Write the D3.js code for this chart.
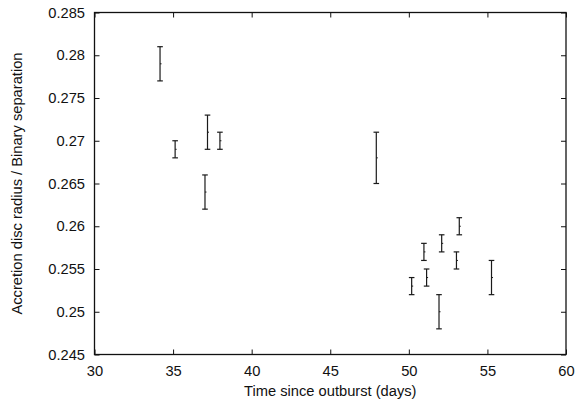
<!DOCTYPE html>
<html>
<head>
<meta charset="utf-8">
<script src="https://cdn.jsdelivr.net/npm/d3@7"></script>
<style>
	body { margin: 0; background: #fff; }
	svg { display: block; }
	text { font-family: "Liberation Sans", Arial, Helvetica, sans-serif; font-size: 14.7px; fill: #111; }
	.axis path { display: none; }
	.axis line { stroke: #111; stroke-width: 1; }
</style>
</head>
<body>
<div id="chart"></div>
<script>
// days since outburst for each measurement
var days = [34.17, 35.13, 37.03, 37.19, 37.98, 47.93, 50.18, 50.96, 51.13, 51.92, 52.09, 53.03, 53.21, 55.26];
// disc radius / binary separation
var ratio = [0.279, 0.269, 0.264, 0.271, 0.270, 0.268, 0.253, 0.257, 0.254, 0.250, 0.258, 0.256, 0.260, 0.254];
// half-length of each error bar
var ratioErr = [0.002, 0.001, 0.002, 0.002, 0.001, 0.003, 0.001, 0.001, 0.001, 0.002, 0.001, 0.001, 0.001, 0.002];

var xTicks = [30, 35, 40, 45, 50, 55, 60];
var yTicks = [0.245, 0.25, 0.255, 0.26, 0.265, 0.27, 0.275, 0.28, 0.285];
var yTickLabels = ['0.245', '0.25', '0.255', '0.26', '0.265', '0.27', '0.275', '0.28', '0.285'];

var W = 577, H = 405;
var padding = { top: 12.5, right: 11, bottom: 50.5, left: 94.5 };
var width = W - padding.left - padding.right;
var height = H - padding.top - padding.bottom;
var capHalf = 2.8;

var x = d3.scaleLinear().domain([30, 60]).range([0, width]);
var y = d3.scaleLinear().domain([0.245, 0.285]).range([height, 0]);

var svg = d3.select('#chart').append('svg')
	.attr('width', W)
	.attr('height', H)
	.append('g')
	.attr('transform', 'translate(' + padding.left + ',' + padding.top + ')');

// axes: ticks point inwards, mirrored on top and right
svg.append('g').attr('class', 'axis')
	.attr('transform', 'translate(0,' + height + ')')
	.call(d3.axisBottom(x).tickValues(xTicks).tickSizeInner(-5).tickSizeOuter(0).tickPadding(11).tickFormat(d3.format('d')));

svg.append('g').attr('class', 'axis')
	.call(d3.axisTop(x).tickValues(xTicks).tickSizeInner(-5).tickSizeOuter(0).tickFormat(''));

svg.append('g').attr('class', 'axis')
	.call(d3.axisLeft(y).tickValues(yTicks).tickSizeInner(-5).tickSizeOuter(0).tickPadding(9.5)
		.tickFormat(function (d, i) { return yTickLabels[i]; }));

svg.append('g').attr('class', 'axis')
	.attr('transform', 'translate(' + width + ',0)')
	.call(d3.axisRight(y).tickValues(yTicks).tickSizeInner(-5).tickSizeOuter(0).tickFormat(''));

svg.selectAll('.axis text').style('font-size', '14.7px').attr('fill', '#111');

// frame
svg.append('rect')
	.attr('width', width)
	.attr('height', height)
	.attr('fill', 'none')
	.attr('stroke', '#111')
	.attr('stroke-width', 1.3);

var points = days.map(function (d, i) {
	return { day: d, value: ratio[i], err: ratioErr[i] };
});

var bars = svg.selectAll('.bar')
	.data(points)
	.enter().append('g')
	.attr('class', 'bar')
	.attr('stroke', '#1a1a1a')
	.attr('stroke-width', 1.2);

bars.append('line')
	.attr('x1', function (d) { return x(d.day); })
	.attr('x2', function (d) { return x(d.day); })
	.attr('y1', function (d) { return y(d.value - d.err); })
	.attr('y2', function (d) { return y(d.value + d.err); });

bars.append('line')
	.attr('x1', function (d) { return x(d.day) - capHalf; })
	.attr('x2', function (d) { return x(d.day) + capHalf; })
	.attr('y1', function (d) { return y(d.value + d.err); })
	.attr('y2', function (d) { return y(d.value + d.err); });

bars.append('line')
	.attr('x1', function (d) { return x(d.day) - capHalf; })
	.attr('x2', function (d) { return x(d.day) + capHalf; })
	.attr('y1', function (d) { return y(d.value - d.err); })
	.attr('y2', function (d) { return y(d.value - d.err); });

// tiny dot at the measured value
bars.append('line')
	.attr('stroke-width', 1)
	.attr('x1', function (d) { return x(d.day); })
	.attr('x2', function (d) { return x(d.day) + 1.5; })
	.attr('y1', function (d) { return y(d.value); })
	.attr('y2', function (d) { return y(d.value); });

// axis labels
svg.append('text')
	.attr('text-anchor', 'middle')
	.attr('x', width / 2)
	.attr('y', height + 41.5)
	.text('Time since outburst (days)');

svg.append('text')
	.attr('text-anchor', 'middle')
	.attr('transform', 'translate(' + (21.5 - padding.left) + ',' + (height / 2) + ') rotate(-90)')
	.text('Accretion disc radius / Binary separation');
</script>
</body>
</html>
